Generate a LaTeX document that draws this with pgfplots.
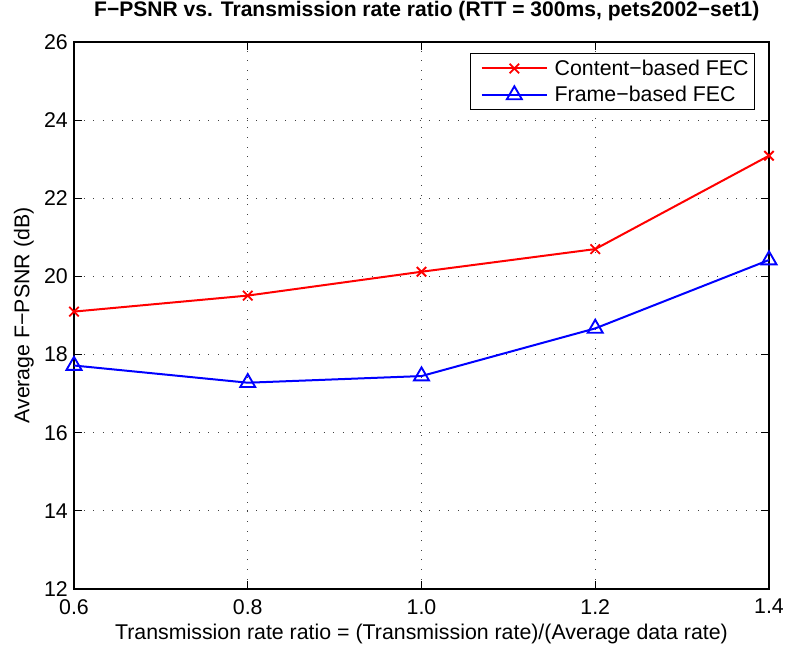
\documentclass[border=0pt]{standalone}
\usepackage{fontspec}
\setmainfont{Liberation Sans}
\usepackage{pgfplots}
\pgfplotsset{compat=1.18}

% 1 px of the reference = 0.75pt
\begin{document}
\begin{tikzpicture}
\begin{axis}[
  scale only axis,
  width=521.25pt, height=410.25pt,
  xmin=0.6, xmax=1.4, ymin=12, ymax=26,
  xtick={0.6,0.8,...,1.4},
  ytick={12,14,...,26},
  xticklabels={0.6,0.8,1.0,1.2,1.4},
  /pgf/number format/assume math mode=true,
  tick align=inside,
  tick style={black, line width=0.6pt},
  major tick length=6pt,
  grid=major,
  grid style={black!75, line width=0.6pt, dash pattern=on 0.6pt off 6.6pt},
  axis line style={black, line width=0.8pt},
  every tick label/.style={font=\fontsize{16}{18}\selectfont, inner sep=0pt},
  yticklabel style={anchor=east, xshift=-4.5pt},
  xticklabel style={anchor=north, yshift=-7.5pt},
  title={\bfseries F−PSNR vs. Transmission rate ratio (RTT = 300ms, pets2002−set1)},
  title style={font=\fontsize{15.8}{18}\selectfont, inner sep=0pt,
    at={(axis description cs:0.5,1)}, anchor=base, yshift=12.75pt, xshift=4pt},
  xlabel={Transmission rate ratio = (Transmission rate)/(Average data rate)},
  ylabel={Average F−PSNR (dB)},
  label style={font=\fontsize{16}{18}\selectfont, inner sep=0pt},
  xlabel style={at={(axis description cs:0.5,0)}, anchor=base, yshift=-38pt},
  ylabel style={at={(axis description cs:0,0.5)}, anchor=south, yshift=30pt},
  legend style={font=\fontsize{16}{18}\selectfont, draw=black, line width=0.6pt,
    at={(axis description cs:1,1)}, anchor=north east, xshift=-11pt, yshift=-8.5pt,
    inner xsep=2pt, inner ysep=2.5pt, row sep=2.75pt,
    /tikz/every odd column/.append style={column sep=3pt}},
  legend cell align=left,
  legend image code/.code={\path (-6pt,0pt);
    \draw[mark repeat=2, mark phase=2, #1]
    plot coordinates {(0pt,0pt) (24.5pt,0pt) (49pt,0pt)};},
]
\addplot[red, line width=1.5pt, mark=x, mark size=5pt, mark options={line width=1.4pt}]
  coordinates {(0.6,19.10) (0.8,19.51) (1.0,20.12) (1.2,20.70) (1.4,23.09)};
\addlegendentry{Content−based FEC}
\addplot[blue, line width=1.5pt, mark=triangle, mark size=6.5pt, mark options={line width=1.4pt}]
  coordinates {(0.6,17.72) (0.8,17.28) (1.0,17.45) (1.2,18.67) (1.4,20.42)};
\addlegendentry{Frame−based FEC}
\end{axis}
\pgfresetboundingbox
\path (current axis.south west) ++(-55.5pt,-45.75pt) coordinate (bbA);
\path (current axis.north east) ++(12.75pt,31.5pt) coordinate (bbB);
\useasboundingbox (bbA) rectangle (bbB);
\end{tikzpicture}
\end{document}
